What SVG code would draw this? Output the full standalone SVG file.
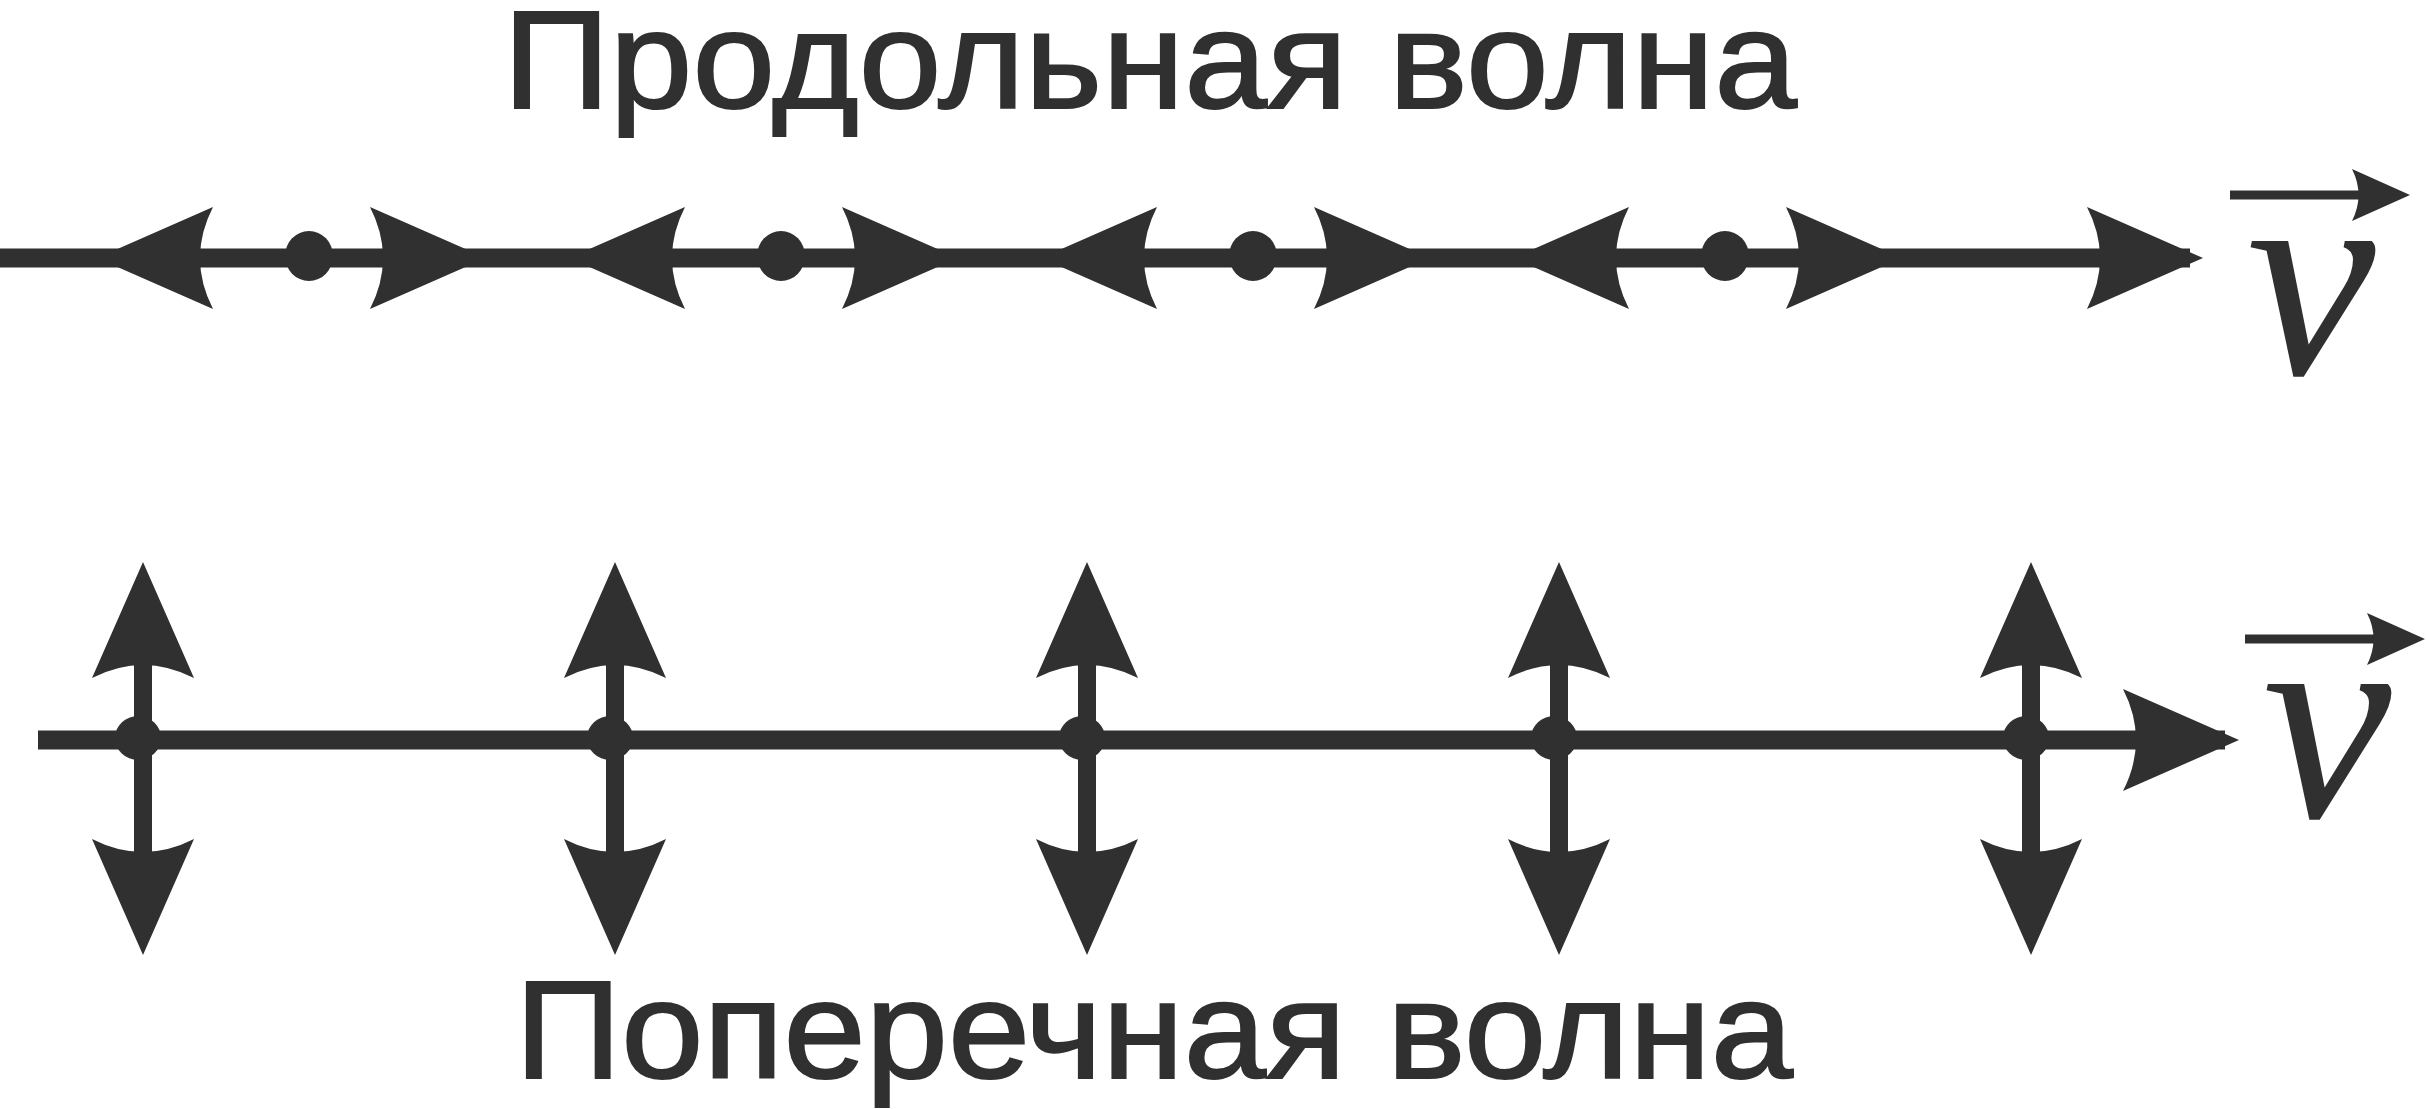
<svg xmlns="http://www.w3.org/2000/svg" xmlns:xlink="http://www.w3.org/1999/xlink" width="2426" height="1109" viewBox="0 0 2426 1109">
<style>
.ink{fill:#303030;}
.shaft{stroke:#303030;fill:none;}
.title{font-family:"Liberation Sans",Arial,sans-serif;font-size:140px;fill:#303030;stroke:#303030;stroke-width:2;}
.vec{font-family:"Liberation Serif","Times New Roman",serif;font-style:italic;font-size:290px;fill:#303030;text-anchor:middle;}
</style>
<defs>
<path id="head" d="M0,0 L-116,-51 Q-90,0 -116,51 Z" class="ink"/>
<path id="smallhead" d="M0,0 L-58,-26 Q-45,0 -58,26 Z" class="ink"/>
</defs>
<rect width="2426" height="1109" fill="#fff"/>

<text id="title-top" class="title" x="503" y="108" textLength="1294" lengthAdjust="spacingAndGlyphs">Продольная волна</text>
<text id="title-bottom" class="title" x="515" y="1078" textLength="1278" lengthAdjust="spacingAndGlyphs">Поперечная волна</text>

<g id="connectors">
<line class="shaft" x1="0" y1="258" x2="2190" y2="258" stroke-width="19"/>
<line class="shaft" x1="38" y1="740" x2="2225" y2="740" stroke-width="19"/>
<use xlink:href="#head" transform="translate(2203,258)"/>
<use xlink:href="#head" transform="translate(2239,740)"/>
</g>

<g id="longitudinal">
<g id="lp1">
<use xlink:href="#head" transform="translate(97,258) scale(-1,1)"/>
<ellipse class="ink" cx="309" cy="256" rx="24" ry="25"/>
<use xlink:href="#head" transform="translate(486,258)"/>
</g>
<g id="lp2">
<use xlink:href="#head" transform="translate(569,258) scale(-1,1)"/>
<ellipse class="ink" cx="781" cy="256" rx="24" ry="25"/>
<use xlink:href="#head" transform="translate(958,258)"/>
</g>
<g id="lp3">
<use xlink:href="#head" transform="translate(1041,258) scale(-1,1)"/>
<ellipse class="ink" cx="1253" cy="256" rx="24" ry="25"/>
<use xlink:href="#head" transform="translate(1430,258)"/>
</g>
<g id="lp4">
<use xlink:href="#head" transform="translate(1513,258) scale(-1,1)"/>
<ellipse class="ink" cx="1725" cy="256" rx="24" ry="25"/>
<use xlink:href="#head" transform="translate(1902,258)"/>
</g>
</g>

<g id="transverse">
<g id="tp1">
<line class="shaft" x1="143" y1="660" x2="143" y2="860" stroke-width="18"/>
<use xlink:href="#head" transform="translate(143,562) rotate(-90)"/>
<use xlink:href="#head" transform="translate(143,955) rotate(90)"/>
<ellipse class="ink" cx="138" cy="738" rx="23" ry="22"/>
</g>
<g id="tp2">
<line class="shaft" x1="615" y1="660" x2="615" y2="860" stroke-width="18"/>
<use xlink:href="#head" transform="translate(615,562) rotate(-90)"/>
<use xlink:href="#head" transform="translate(615,955) rotate(90)"/>
<ellipse class="ink" cx="610" cy="738" rx="23" ry="22"/>
</g>
<g id="tp3">
<line class="shaft" x1="1087" y1="660" x2="1087" y2="860" stroke-width="18"/>
<use xlink:href="#head" transform="translate(1087,562) rotate(-90)"/>
<use xlink:href="#head" transform="translate(1087,955) rotate(90)"/>
<ellipse class="ink" cx="1082" cy="738" rx="23" ry="22"/>
</g>
<g id="tp4">
<line class="shaft" x1="1559" y1="660" x2="1559" y2="860" stroke-width="18"/>
<use xlink:href="#head" transform="translate(1559,562) rotate(-90)"/>
<use xlink:href="#head" transform="translate(1559,955) rotate(90)"/>
<ellipse class="ink" cx="1554" cy="738" rx="23" ry="22"/>
</g>
<g id="tp5">
<line class="shaft" x1="2031" y1="660" x2="2031" y2="860" stroke-width="18"/>
<use xlink:href="#head" transform="translate(2031,562) rotate(-90)"/>
<use xlink:href="#head" transform="translate(2031,955) rotate(90)"/>
<ellipse class="ink" cx="2026" cy="738" rx="23" ry="22"/>
</g>
</g>

<g id="vector-top">
<line class="shaft" x1="2230" y1="195" x2="2365" y2="195" stroke-width="9"/>
<use xlink:href="#smallhead" transform="translate(2410,195)"/>
<text class="vec" x="2311" y="374">v</text>
</g>
<g id="vector-bottom">
<line class="shaft" x1="2245" y1="639" x2="2380" y2="639" stroke-width="9"/>
<use xlink:href="#smallhead" transform="translate(2425,639)"/>
<text class="vec" x="2327" y="817">v</text>
</g>
</svg>
